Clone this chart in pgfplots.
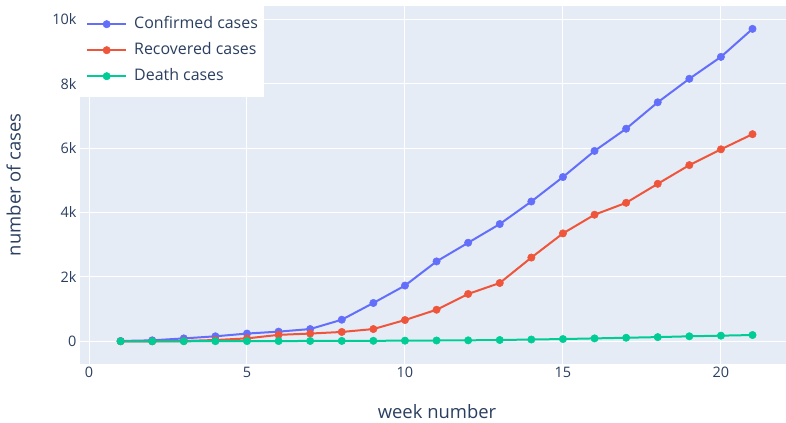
\documentclass[border=0pt]{standalone}
\usepackage{fontspec}
\setmainfont{Open Sans}
\usepackage{pgfplots}
\pgfplotsset{compat=1.18}
\definecolor{cblue}{HTML}{636EFA}
\definecolor{cred}{HTML}{EF553B}
\definecolor{cgreen}{HTML}{00CC96}
\definecolor{bg}{HTML}{E5ECF6}
\definecolor{txt}{HTML}{2A3F5F}
\begin{document}
\begin{tikzpicture}[x=1bp,y=1bp]
\path[use as bounding box] (0,0) rectangle (786,422);
\begin{axis}[at={(80bp,58bp)}, anchor=south west, scale only axis,
  width=706bp, height=358bp,
  xmin=-0.285, xmax=22.06, ymin=-705, ymax=10410,
  axis background/.style={fill=bg},
  axis line style={draw=none}, tick style={draw=none},
  grid=major, major grid style={white, line width=1bp},
  xtick={0,5,10,15,20},
  ytick={0,2000,4000,6000,8000,10000},
  yticklabels={0,2k,4k,6k,8k,10k},
  extra x ticks={0}, extra x tick labels={}, extra x tick style={grid style={white, line width=2bp}},
  extra y ticks={0}, extra y tick labels={}, extra y tick style={grid style={white, line width=2bp}},
  ticklabel style={font=\fontsize{14.5}{17}\selectfont, text=txt},
  /pgf/number format/assume math mode=true,
  scaled y ticks=false,
  xlabel={week number}, ylabel={number of cases},
  label style={font=\fontsize{18.5}{22}\selectfont, text=txt},
  xlabel style={at={(axis description cs:0.5,0)}, anchor=center, yshift=-48bp, xshift=4bp},
  ylabel style={at={(axis description cs:-0.094,0.501)}, anchor=center},
  legend style={at={(rel axis cs:0,1)}, anchor=north west, yshift=3bp,
    draw=none, fill=white, font=\fontsize{16}{19}\selectfont, text=txt,
    inner xsep=6bp, inner ysep=13bp, row sep=10bp,
    nodes={inner sep=0pt, text height=12bp, text depth=4bp},
    /tikz/every odd column/.append style={column sep=7bp}},
  legend cell align=left,
  legend image code/.code={\draw[mark repeat=2,mark phase=2] plot coordinates {(0bp,0bp)(19.5bp,0bp)(39bp,0bp)};},
  every axis plot/.append style={line width=2bp, mark=*, mark size=3.7bp},
]
\addplot[cblue, mark options={fill=cblue, draw=cblue, line width=0.5bp}] coordinates {
(1,10)(2,30)(3,90)(4,155)(5,240)(6,300)(7,380)(8,670)(9,1190)(10,1730)
(11,2480)(12,3060)(13,3640)(14,4340)(15,5100)(16,5910)(17,6600)(18,7420)(19,8150)(20,8830)(21,9700)};
\addlegendentry{Confirmed cases}
\addplot[cred, mark options={fill=cred, draw=cred, line width=0.5bp}] coordinates {
(1,0)(2,0)(3,10)(4,40)(5,90)(6,200)(7,240)(8,290)(9,380)(10,660)
(11,980)(12,1470)(13,1810)(14,2600)(15,3350)(16,3930)(17,4300)(18,4890)(19,5470)(20,5960)(21,6430)};
\addlegendentry{Recovered cases}
\addplot[cgreen, mark options={fill=cgreen, draw=cgreen, line width=0.5bp}] coordinates {
(1,0)(2,0)(3,1)(4,3)(5,5)(6,8)(7,10)(8,12)(9,15)(10,20)
(11,25)(12,30)(13,40)(14,55)(15,70)(16,90)(17,110)(18,130)(19,155)(20,175)(21,195)};
\addlegendentry{Death cases}
\end{axis}
\end{tikzpicture}
\end{document}
